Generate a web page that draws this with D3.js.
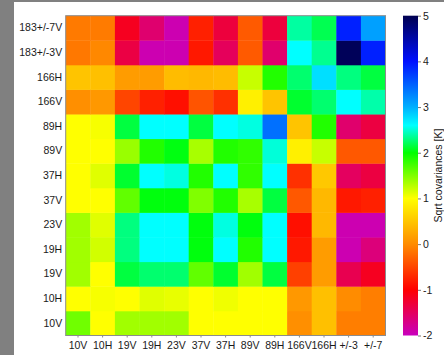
<!DOCTYPE html>
<html>
<head>
<meta charset="utf-8">
<script src="https://cdn.jsdelivr.net/npm/d3@7"></script>
<style>
  html, body { margin: 0; padding: 0; background: #808080; }
  svg { display: block; }
  text { font-family: "Liberation Sans", Arial, sans-serif; }
</style>
</head>
<body>
<svg id="chart" width="444" height="355"></svg>
<script>
// Channel order along the x axis (columns)
const channels = ["10V", "10H", "19V", "19H", "23V", "37V", "37H", "89V", "89H", "166V", "166H", "+/-3", "+/-7"];
// Row labels, bottom to top
const rowLabels = ["10V", "10H", "19V", "19H", "23V", "37V", "37H", "89V", "89H", "166V", "166H", "183+/-3V", "183+/-7V"];

// Square-root covariances [K], one row per entry of rowLabels (bottom row first)
const row10V   = [1.56, 1.00, 1.37, 1.37, 1.37, 1.00, 1.00, 1.00, 1.00, 0.03, 0.45, -0.10, -0.10];
const row10H   = [1.00, 1.03, 1.00, 1.12, 1.09, 1.00, 1.06, 1.00, 1.00, 0.10, 0.45, 0.00, -0.10];
const row19V   = [1.37, 1.00, 2.15, 2.26, 2.26, 1.62, 2.11, 1.37, 2.15, -0.54, 0.14, -1.42, -1.17];
const row19H   = [1.37, 1.18, 2.30, 2.60, 2.60, 2.03, 2.60, 1.87, 2.60, -0.83, 0.14, -1.93, -1.64];
const row23V   = [1.37, 1.12, 2.30, 2.60, 2.60, 2.03, 2.53, 2.03, 2.60, -0.89, 0.38, -1.93, -1.93];
const row37V   = [1.00, 1.00, 1.62, 2.03, 2.03, 1.50, 1.87, 1.34, 2.15, -0.37, 0.38, -0.83, -0.77];
const row37H   = [1.00, 1.12, 2.11, 2.60, 2.53, 1.87, 2.60, 1.81, 2.60, -0.66, 0.52, -1.50, -1.34];
const row89V   = [1.00, 1.00, 1.40, 1.87, 2.04, 1.34, 1.87, 1.81, 2.51, 0.87, 1.22, -0.37, -0.37];
const row89H   = [1.00, 1.03, 2.15, 2.60, 2.60, 2.15, 2.60, 2.53, 3.40, 0.49, 1.87, -1.57, -1.34];
const row166V  = [0.03, 0.10, -0.51, -0.77, -0.89, -0.40, -0.66, 0.87, 0.49, 2.11, 2.26, 2.60, 2.40];
const row166H  = [0.49, 0.45, 0.14, 0.14, 0.42, 0.38, 0.42, 1.22, 1.87, 2.26, 2.76, 2.30, 2.15];
const row183p3 = [-0.14, -0.03, -1.36, -1.93, -1.93, -0.83, -1.48, -0.36, -1.57, 2.60, 2.34, 4.95, 3.90];
const row183p7 = [-0.13, -0.12, -1.17, -1.58, -1.93, -0.77, -1.32, -0.36, -1.32, 2.38, 2.19, 3.90, 3.10];

const matrix = [row10V, row10H, row19V, row19H, row23V, row37V, row37H, row89V, row89H,
                row166V, row166H, row183p3, row183p7];

// Colour bar ticks
const cbarTicks = [-2, -1, 0, 1, 2, 3, 4, 5];
const cbarTitle = "Sqrt covariances [K]";

// Colour map stops
const cmapValues = [-2, -1, 0, 1, 2, 2.6, 3, 4, 5];
const cmapColors = ["#c800be", "#ff0000", "#ff8c00", "#ffff00", "#00ff00", "#00ffff", "#00b0ff", "#0010ff", "#000050"];

const W = 444, H = 355;
const plot = { left: 65.7, right: 385.5, top: 15.7, bottom: 335.5 };
const cbar = { left: 403, right: 418 };

const svg = d3.select("#chart");

// page: gray surround with white panel
svg.append("rect").attr("x", 0).attr("y", 0).attr("width", W).attr("height", H).attr("fill", "#808080");
svg.append("rect").attr("x", 14).attr("y", 2).attr("width", W - 14).attr("height", H - 2).attr("fill", "#ffffff");

const x = d3.scaleBand().domain(channels).range([plot.left, plot.right]).padding(0);
const y = d3.scaleBand().domain(rowLabels).range([plot.bottom, plot.top]).padding(0);
const color = d3.scaleLinear().domain(cmapValues).range(cmapColors)
  .interpolate(d3.interpolateRgb).clamp(true);

// cells
const cells = [];
matrix.forEach((row, r) => row.forEach((v, c) => cells.push({ r: rowLabels[r], c: channels[c], v })));

svg.append("g").selectAll("rect").data(cells).join("rect")
  .attr("x", d => x(d.c))
  .attr("y", d => y(d.r))
  .attr("width", x.bandwidth() + 0.4)
  .attr("height", y.bandwidth() + 0.4)
  .attr("fill", d => color(d.v));

// plot frame
svg.append("rect")
  .attr("x", plot.left).attr("y", plot.top)
  .attr("width", plot.right - plot.left).attr("height", plot.bottom - plot.top)
  .attr("fill", "none").attr("stroke", "#8c8c8c").attr("stroke-width", 1);

// axes
const xAxis = svg.append("g")
  .attr("transform", `translate(0,${plot.bottom})`)
  .call(d3.axisBottom(x).tickSize(2).tickPadding(4.5));
const yAxis = svg.append("g")
  .attr("transform", `translate(${plot.left},0)`)
  .call(d3.axisLeft(y).tickSize(0).tickPadding(3.5));

[xAxis, yAxis].forEach(g => {
  g.select(".domain").remove();
  g.selectAll(".tick line").attr("stroke", "#8c8c8c");
  g.selectAll("text").attr("font-size", "10.5px").attr("fill", "#1a1a1a")
    .attr("font-family", "'Liberation Sans', Arial, sans-serif");
});

// colour bar
const cY = d3.scaleLinear().domain([-2, 5]).range([plot.bottom, plot.top]);
const defs = svg.append("defs");
const grad = defs.append("linearGradient").attr("id", "cbar-grad")
  .attr("x1", 0).attr("y1", 1).attr("x2", 0).attr("y2", 0);
cmapValues.forEach((v, i) => {
  grad.append("stop")
    .attr("offset", (v - cmapValues[0]) / (cmapValues[cmapValues.length - 1] - cmapValues[0]))
    .attr("stop-color", cmapColors[i]);
});
svg.append("rect")
  .attr("x", cbar.left).attr("y", cY(5))
  .attr("width", cbar.right - cbar.left).attr("height", cY(-2) - cY(5))
  .attr("fill", "url(#cbar-grad)");

const cAxis = svg.append("g")
  .attr("transform", `translate(${cbar.right},0)`)
  .call(d3.axisRight(cY).tickValues(cbarTicks).tickSize(3).tickPadding(2).tickFormat(d => String(d)));
cAxis.select(".domain").remove();
cAxis.selectAll(".tick line").attr("stroke", "#777");
cAxis.selectAll("text").attr("font-size", "10.5px").attr("fill", "#1a1a1a")
  .attr("font-family", "'Liberation Sans', Arial, sans-serif");

svg.append("text")
  .attr("transform", `translate(441.5,${(plot.top + plot.bottom) / 2}) rotate(-90)`)
  .attr("text-anchor", "middle")
  .attr("font-size", "10.5px")
  .attr("fill", "#1a1a1a")
  .text(cbarTitle);
</script>
</body>
</html>
